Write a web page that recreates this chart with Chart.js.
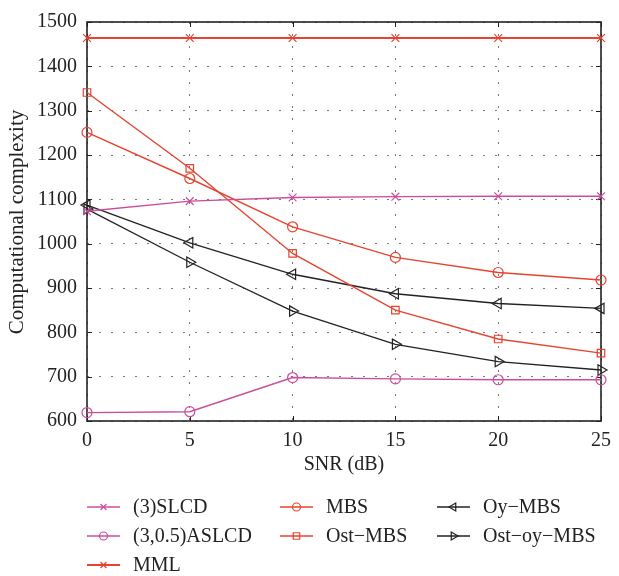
<!DOCTYPE html>
<html><head><meta charset="utf-8">
<script src="https://cdn.jsdelivr.net/npm/chart.js@4/dist/chart.umd.min.js"></script>
<style>html,body{margin:0;padding:0;background:#fff}#wrap{width:619px;height:576px}</style>
</head><body><div id="wrap"><canvas id="c" width="619" height="576"></canvas></div>
<script>
// ---- data ----
const snr = [0, 5, 10, 15, 20, 25];
const slcd = [1073, 1096, 1104, 1106, 1107, 1107];
const aslcd = [619, 621, 698, 695, 693, 693];
const mml = [1464, 1464, 1464, 1464, 1464, 1464];
const mbs = [1251, 1147, 1038, 969, 935, 918];
const ostMbs = [1341, 1170, 978, 850, 785, 753];
const oyMbs = [1087, 1002, 931, 887, 865, 854];
const ostOyMbs = [1078, 958, 848, 773, 734, 715];
const seriesNames = ['(3)SLCD', '(3,0.5)ASLCD', 'MML', 'MBS', 'Ost\u2212MBS', 'Oy\u2212MBS', 'Ost\u2212oy\u2212MBS'];
const xTicks = [0, 5, 10, 15, 20, 25];
const yTicks = [600, 700, 800, 900, 1000, 1100, 1200, 1300, 1400, 1500];
const xTitle = 'SNR (dB)';
const yTitle = 'Computational complexity';

// ---- styles ----
const RED = '#e8432f', MAG = '#cc4c9c', BLK = '#222222';
const FONT = '"Liberation Serif", "Times New Roman", serif';

function pts(ys) { return snr.map((x, i) => ({ x: x, y: ys[i] })); }
function ds(label, ys, color, style, radius, rot, lw, legR) {
  return {
    label: label, data: pts(ys), borderColor: color, backgroundColor: 'rgba(0,0,0,0)',
    borderWidth: lw, pointStyle: style, pointRadius: radius, pointHoverRadius: radius,
    pointRotation: rot, pointBorderColor: color, pointBackgroundColor: 'rgba(0,0,0,0)',
    pointBorderWidth: 1.2, tension: 0, fill: false, clip: false, legendRadius: legR
  };
}
const datasets = [
  ds(seriesNames[0], slcd, MAG, 'crossRot', 5.5, 0, 1.4, 4.2),
  ds(seriesNames[1], aslcd, MAG, 'circle', 5, 0, 1.4, 4),
  ds(seriesNames[2], mml, RED, 'crossRot', 5.5, 0, 2, 4.2),
  ds(seriesNames[3], mbs, RED, 'circle', 5, 0, 1.4, 4),
  ds(seriesNames[4], ostMbs, RED, 'rect', 5.3, 0, 1.4, 4.6),
  ds(seriesNames[5], oyMbs, BLK, 'triangle', 6, -90, 1.3, 4.5),
  ds(seriesNames[6], ostOyMbs, BLK, 'triangle', 6, 90, 1.3, 4.5)
];
// legend slot (column, row) per dataset
const legendSlots = [[0,0],[0,1],[0,2],[1,0],[1,1],[2,0],[2,1]];
const legendColX = [87, 280, 437];
const legendRowY = [507, 536, 565];

function drawMarker(ctx, style, r, rot, x, y) {
  if (Chart.helpers && Chart.helpers.drawPoint) {
    Chart.helpers.drawPoint(ctx, { pointStyle: style, radius: r, rotation: rot, borderWidth: ctx.lineWidth }, x, y);
    return;
  }
  ctx.beginPath();
  if (style === 'circle') { ctx.arc(x, y, r, 0, Math.PI * 2); }
  ctx.stroke();
}

const framePlugin = {
  id: 'frame',
  beforeDatasetsDraw(chart) {
    const { ctx, chartArea: { left, right, top, bottom } } = chart;
    const xs = chart.scales.x, ys = chart.scales.y;
    ctx.save();
    ctx.strokeStyle = BLK; ctx.lineWidth = 1;
    const tl = 5;
    ctx.beginPath();
    xTicks.forEach(v => {
      const px = Math.round(xs.getPixelForValue(v)) + 0.5;
      ctx.moveTo(px, bottom); ctx.lineTo(px, bottom - tl);
      ctx.moveTo(px, top); ctx.lineTo(px, top + tl);
    });
    yTicks.forEach(v => {
      const py = Math.round(ys.getPixelForValue(v)) + 0.5;
      ctx.moveTo(left, py); ctx.lineTo(left + tl, py);
      ctx.moveTo(right, py); ctx.lineTo(right - tl, py);
    });
    ctx.stroke();
    ctx.lineWidth = 1.6;
    ctx.strokeRect(left, top, right - left, bottom - top);
    ctx.restore();
  },
  afterDraw(chart) {
    const { ctx, chartArea: { left, right, top, bottom } } = chart;
    ctx.save();
    ctx.fillStyle = BLK;
    ctx.font = '20px ' + FONT;
    ctx.textAlign = 'center'; ctx.textBaseline = 'middle';
    ctx.fillText(xTitle, (left + right) / 2, 465);
    ctx.save();
    ctx.font = '21px ' + FONT;
    ctx.translate(17, 222);
    ctx.rotate(-Math.PI / 2);
    ctx.fillText(yTitle, 0, 0);
    ctx.restore();
    // legend
    ctx.textAlign = 'left';
    chart.data.datasets.forEach((d, i) => {
      const [c, r] = legendSlots[i];
      const x0 = legendColX[c], y = legendRowY[r];
      ctx.strokeStyle = d.borderColor;
      ctx.lineWidth = d.borderWidth;
      ctx.beginPath(); ctx.moveTo(x0, y); ctx.lineTo(x0 + 33, y); ctx.stroke();
      ctx.lineWidth = 1.2;
      ctx.fillStyle = 'rgba(0,0,0,0)';
      drawMarker(ctx, d.pointStyle, d.legendRadius, d.pointRotation, x0 + 16.5, y);
      ctx.fillStyle = BLK;
      ctx.fillText(d.label, x0 + 46, y + 1);
    });
    ctx.restore();
  }
};

new Chart(document.getElementById('c'), {
  type: 'line',
  data: { datasets: datasets },
  plugins: [framePlugin],
  options: {
    responsive: false, animation: false, devicePixelRatio: 1,
    layout: { padding: { top: 16, right: 12, left: 0, bottom: 0 } },
    plugins: { legend: { display: false }, tooltip: { enabled: false } },
    scales: {
      x: {
        type: 'linear', min: 0, max: 25,
        afterBuildTicks: s => { s.ticks = xTicks.map(v => ({ value: v })); },
        afterFit: s => { s.height = 155; },
        grid: { color: '#777', lineWidth: 1, drawTicks: false },
        border: { display: false, dash: [2, 10] },
        ticks: { color: BLK, font: { family: FONT, size: 20 }, padding: 8, maxRotation: 0,
                 callback: v => String(v) }
      },
      y: {
        type: 'linear', min: 600, max: 1500,
        afterBuildTicks: s => { s.ticks = yTicks.map(v => ({ value: v })); },
        afterFit: s => { s.width = 87; },
        grid: { color: '#777', lineWidth: 1, drawTicks: false },
        border: { display: false, dash: [2, 10] },
        ticks: { color: BLK, font: { family: FONT, size: 20 }, padding: 10,
                 callback: v => String(v) }
      }
    }
  }
});
</script></body></html>
